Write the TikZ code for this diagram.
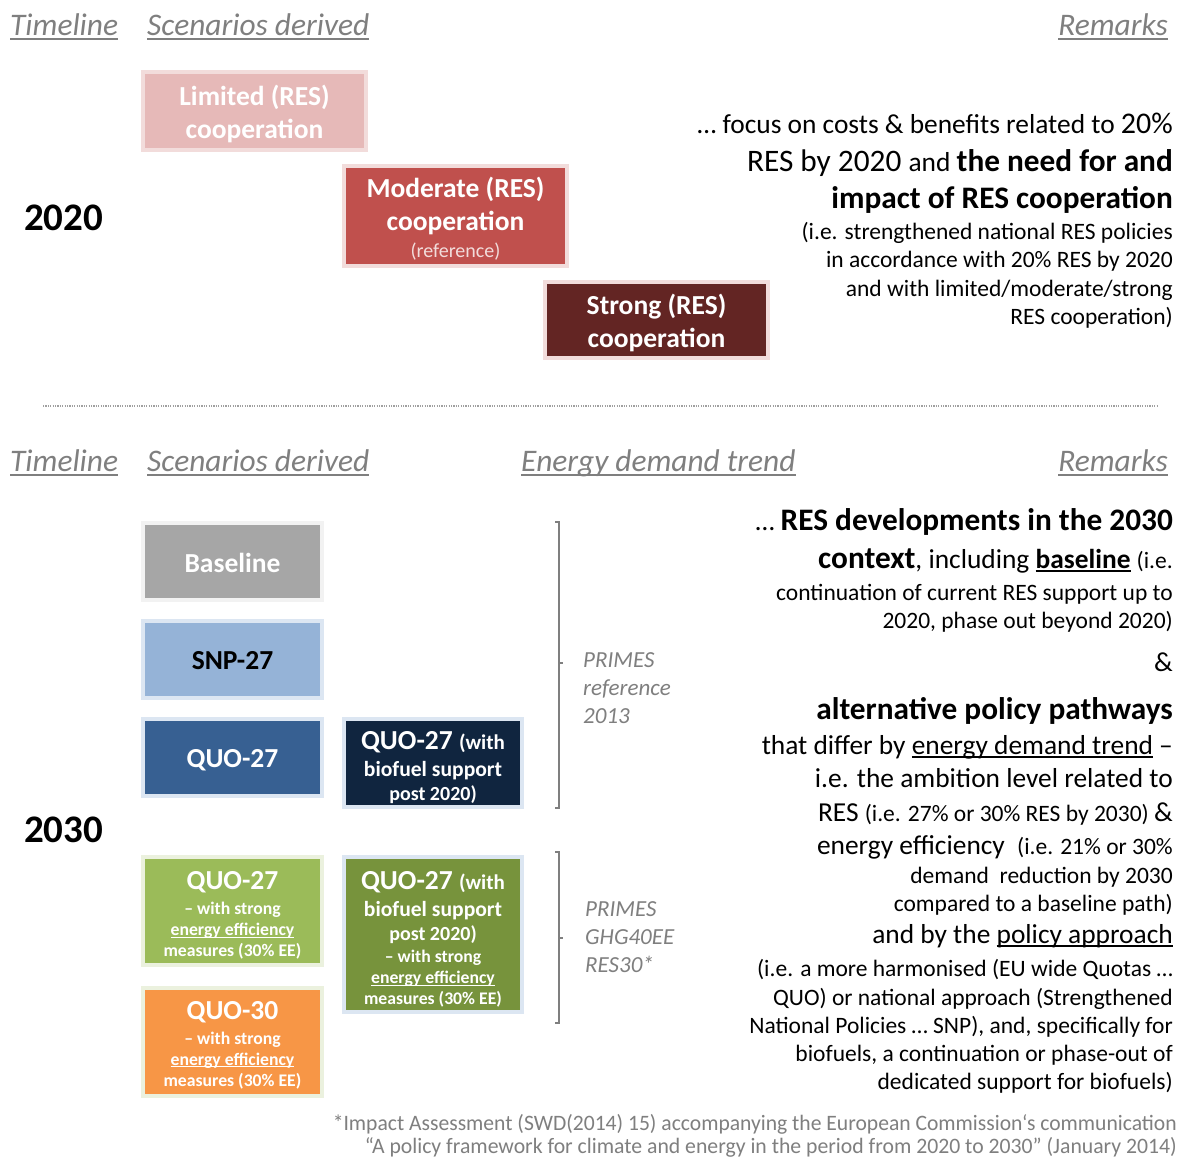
\documentclass[tikz,border=0pt]{standalone}
\usepackage{fontspec}
\setmainfont{Carlito}
\usepackage{graphicx}

\definecolor{hdrgray}{HTML}{7F7F7F}
\definecolor{dotgray}{HTML}{A0A0A0}
\definecolor{limfill}{HTML}{E6B9B8}
\definecolor{redbord}{HTML}{F2DCDB}
\definecolor{modfill}{HTML}{C0504D}
\definecolor{strfill}{HTML}{632523}
\definecolor{basefill}{HTML}{A6A6A6}
\definecolor{basebord}{HTML}{F2F2F2}
\definecolor{snpfill}{HTML}{95B3D7}
\definecolor{bluebord}{HTML}{DCE6F2}
\definecolor{quofill}{HTML}{376092}
\definecolor{biofill}{HTML}{10253F}
\definecolor{grnfill}{HTML}{9BBB59}
\definecolor{grnbord}{HTML}{EBF1DE}
\definecolor{dkgfill}{HTML}{77933C}
\definecolor{orgfill}{HTML}{F79646}

\newcommand\sz[1]{\fontsize{#1pt}{#1pt}\selectfont}
\newcommand\myul[1]{\setbox0\hbox{#1}\leavevmode\rlap{\rule[-0.13em]{\wd0}{0.07em}}\box0\relax}

\begin{document}
\begin{tikzpicture}[x=1pt,y=-1pt,
  hdr/.style={inner sep=0pt, text=hdrgray, font=\sz{31.4}\itshape},
  hdrline/.style={draw=hdrgray, line width=2pt},
  year/.style={inner sep=0pt, anchor=base west, font=\sz{39}\bfseries},
  scen/.style 2 args={fill=#1, draw=#2, line width=4pt, inner sep=0pt},
  scentxt/.style={inner sep=0pt, align=center, text=white,
    font={\fontsize{27.5pt}{33pt}\selectfont\bfseries}},
  rmk/.style={inner sep=0pt, anchor=base east},
  src/.style={inner sep=0pt, anchor=base west, text=hdrgray, align=left,
    font={\fontsize{23pt}{28pt}\selectfont\itshape}},
  brk/.style={draw=hdrgray, line width=1.1pt},
  foot/.style={inner sep=0pt, anchor=base east, text=hdrgray}]

\useasboundingbox (0,0) rectangle (1182,1157);
\fill[white] (0,0) rectangle (1182,1157);

% ---------- 2020 section ----------
\node[hdr, anchor=base west] (t1) at (10,35) {Timeline};
\node[hdr, anchor=base west] (s1) at (147,35) {Scenarios derived};
\node[hdr, anchor=base east] (m1) at (1168,35) {Remarks};
\foreach \n in {t1,s1,m1}
  \draw[hdrline] ([yshift=-4pt]\n.base west) -- ([yshift=-4pt]\n.base east);

\node[year] (y2020) at (24,230) {2020};

\node[scen={limfill}{redbord}, minimum width=223pt, minimum height=78pt] (lim) at (254.5,111) {};
\node[scentxt] (limT) at ([yshift=-3pt]lim.center) {Limited (RES)\\cooperation};
\node[scen={modfill}{redbord}, minimum width=223pt, minimum height=100pt] (mod) at (455.5,216) {};
\node[scentxt] (modT) at ([yshift=-3pt]mod.center)
  {Moderate (RES)\\cooperation\\[-6pt]{\sz{20}\mdseries\color{redbord}(reference)}};
\node[scen={strfill}{redbord}, minimum width=223pt, minimum height=76pt] (str) at (656.5,320) {};
\node[scentxt] (strT) at ([yshift=-3pt]str.center) {Strong (RES)\\cooperation};

\node[rmk] (a1) at (1173,133) {{\sz{27.4}… focus on costs \& benefits related to }{\sz{30}20\%}};
\node[rmk] (a2) at (1173,171) {{\sz{31.3}RES by 2020 }{\sz{27.4}and }{\sz{31.3}\bfseries the need for and}};
\node[rmk] (a3) at (1173,208) {\sz{31.3}\bfseries impact of RES cooperation};
\node[rmk] (a4) at (1173,239) {\sz{23.5}(i.e. strengthened national RES policies};
\node[rmk] (a5) at (1173,267) {\sz{23.5}in accordance with 20\% RES by 2020};
\node[rmk] (a6) at (1173,296) {\sz{23.5}and with limited/moderate/strong};
\node[rmk] (a7) at (1173,324) {\sz{23.5}RES cooperation)};

% ---------- separator ----------
\coordinate (sepL) at (43,406);
\coordinate (sepR) at (1158,406);
\draw[dotgray, line width=1.3pt, dash pattern=on 1.2pt off 1.2pt] (sepL) -- (sepR);

% ---------- 2030 section ----------
\node[hdr, anchor=base west] (t2) at (10,471) {Timeline};
\node[hdr, anchor=base west] (s2) at (147,471) {Scenarios derived};
\node[hdr, anchor=base west] (e2) at (521,471) {Energy demand trend};
\node[hdr, anchor=base east] (m2) at (1168,471) {Remarks};
\foreach \n in {t2,s2,e2,m2}
  \draw[hdrline] ([yshift=-4pt]\n.base west) -- ([yshift=-4pt]\n.base east);

\node[year] (y2030) at (24,842) {2030};

\node[scen={basefill}{basebord}, minimum width=179pt, minimum height=77pt] (base) at (232.5,561.5) {};
\node[scentxt] (baseT) at ([yshift=-1pt]base.center) {Baseline};
\node[scen={snpfill}{bluebord}, minimum width=179pt, minimum height=77pt] (snp) at (232.5,659.5) {};
\node[scentxt, text=black] (snpT) at ([yshift=-1pt]snp.center) {SNP-27};
\node[scen={quofill}{bluebord}, minimum width=179pt, minimum height=77pt] (quo) at (232.5,757.5) {};
\node[scentxt] (quoT) at ([yshift=-2.5pt]quo.center) {QUO-27};
\node[scen={biofill}{bluebord}, minimum width=178pt, minimum height=88pt] (quobio) at (433,763) {};
\node[scentxt] (quobioT) at ([yshift=-4.5pt]quobio.center)
  {QUO-27 {\sz{21}(with}\\[-6pt]{\sz{21.6}biofuel support}\\[-9pt]{\sz{20}post 2020)}};
\node[scen={grnfill}{grnbord}, minimum width=179pt, minimum height=108pt] (quoee) at (232.5,911) {};
\node[scentxt] (quoeeT) at ([yshift=-4.5pt]quoee.center)
  {QUO-27\\[-8pt]{\sz{17.7}– with strong}\\[-12pt]{\sz{17.7}\myul{energy efficiency}}\\[-12pt]{\sz{17.7}measures (30\% EE)}};
\node[scen={dkgfill}{bluebord}, minimum width=178pt, minimum height=155pt] (quobioee) at (433,934.5) {};
\node[scentxt] (quobioeeT) at ([yshift=-5pt]quobioee.center)
  {QUO-27 {\sz{21}(with}\\[-6pt]{\sz{21.6}biofuel support}\\[-9pt]{\sz{20}post 2020)}\\[-11pt]{\sz{17.7}– with strong}\\[-12pt]{\sz{17.7}\myul{energy efficiency}}\\[-12pt]{\sz{17.7}measures (30\% EE)}};
\node[scen={orgfill}{grnbord}, minimum width=179pt, minimum height=108pt] (quo30) at (232.5,1042) {};
\node[scentxt] (quo30T) at ([yshift=-3pt]quo30.center)
  {QUO-30\\[-8pt]{\sz{17.7}– with strong}\\[-12pt]{\sz{17.7}\myul{energy efficiency}}\\[-12pt]{\sz{17.7}measures (30\% EE)}};

% demand-trend brackets
\coordinate (b1t) at (559,522);
\coordinate (b1m) at (559,663);
\coordinate (b1b) at (559,808);
\draw[brk] ([xshift=-4pt]b1t) -- (b1t) -- (b1b) -- ([xshift=-4pt]b1b);
\draw[brk] (b1m) -- ([xshift=4pt]b1m);
\coordinate (b2t) at (559,852);
\coordinate (b2m) at (559,938);
\coordinate (b2b) at (559,1023);
\draw[brk] ([xshift=-4pt]b2t) -- (b2t) -- (b2b) -- ([xshift=-4pt]b2b);
\draw[brk] (b2m) -- ([xshift=4pt]b2m);

\node[src] (p1) at (583,723) {PRIMES\\reference\\2013};
\node[src] (p2) at (585,972) {PRIMES\\GHG40EE\\RES30*};

\node[rmk] (c1) at (1173,530) {{\sz{27.4}… }{\sz{31.3}\bfseries RES developments in the 2030}};
\node[rmk] (c2) at (1173,568) {{\sz{31.3}\bfseries context}{\sz{27.4}, including {\bfseries\myul{baseline}} }{\sz{23.5}(i.e.}};
\node[rmk] (c3) at (1173,600) {\sz{23.5}continuation of current RES support up to};
\node[rmk] (c4) at (1173,628) {\sz{23.5}2020, phase out beyond 2020)};
\node[rmk] (c5) at (1173,671) {\sz{27.4}\&};
\node[rmk] (c6) at (1173,719) {\sz{31.3}\bfseries alternative policy pathways};
\node[rmk] (c7) at (1173,754) {\sz{27.4}that differ by \myul{energy demand trend} –};
\node[rmk] (c8) at (1173,787) {\sz{27.4}i.e. the ambition level related to};
\node[rmk] (c9) at (1173,821) {{\sz{27.4}RES }{\sz{23.5}(i.e. 27\% or 30\% RES by 2030) }{\sz{27.4}\&}};
\node[rmk] (c10) at (1173,854) {{\sz{27.4}energy efficiency\ \ }{\sz{23.5}(i.e. 21\% or 30\%}};
\node[rmk] (c11) at (1173,883) {\sz{23.5}demand\ \ reduction by 2030};
\node[rmk] (c12) at (1173,911) {\sz{23.5}compared to a baseline path)};
\node[rmk] (c13) at (1173,943) {\sz{27.4}and by the \myul{policy approach}};
\node[rmk] (c14) at (1173,976) {\sz{23.5}(i.e. a more harmonised (EU wide Quotas …};
\node[rmk] (c15) at (1173,1005) {\sz{23.5}QUO) or national approach (Strengthened};
\node[rmk] (c16) at (1173,1033) {\sz{23.5}National Policies … SNP), and, specifically for};
\node[rmk] (c17) at (1173,1061) {\sz{23.5}biofuels, a continuation or phase-out of};
\node[rmk] (c18) at (1173,1089) {\sz{23.5}dedicated support for biofuels)};

% source note
\node[foot] (n1) at (1177,1130) {\resizebox{844pt}{\height}{\sz{22}*Impact Assessment (SWD(2014) 15) accompanying the European Commission‘s communication}};
\node[foot] (n2) at (1177,1153) {\resizebox{812pt}{\height}{\sz{22}“A policy framework for climate and energy in the period from 2020 to 2030” (January 2014)}};

\end{tikzpicture}
\end{document}
